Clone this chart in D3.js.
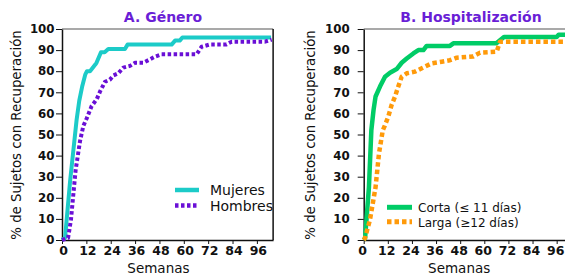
<!DOCTYPE html>
<html><head><meta charset="utf-8">
<script src="https://cdn.jsdelivr.net/npm/d3@7"></script>
<style>
html,body{margin:0;padding:0;background:#fff;}
svg{display:block;font-family:"DejaVu Sans",Verdana,sans-serif;}
</style></head>
<body><svg id="c" width="565" height="278"></svg>
<script>
// ---- data ----
const xTicks = [0,12,24,36,48,60,72,84,96];
const yTicks = [0,10,20,30,40,50,60,70,80,90,100];
const titles = ["A. Género","B. Hospitalización"];
const xLabel = "Semanas";
const yLabel = "% de Sujetos con Recuperación";

const mujeres = [[0,0],[1.5,1],[4,28],[7.2,57],[8.5,66],[10,73],[11.5,78.5],[12.3,80],[13.8,80],[16.3,83],[17,84],[19.2,89],[21,89],[22.8,90.5],[31,90.5],[32.3,92.6],[54,92.6],[55.7,94.5],[58,94.5],[59.3,96],[103,96]];
const hombres = [[0,0],[3,1],[4.4,9.5],[6.7,33],[8.9,47],[10.5,54],[12.2,57.7],[14.6,63.5],[17.1,66.7],[18.7,70.3],[21.2,75],[23.6,76],[25.3,78],[27.7,79],[30.2,81.7],[33.5,82.5],[36,84],[40,84],[43.3,85.6],[45.8,86.9],[49,88],[66.3,88],[68.8,91.6],[73,92.7],[81,92.7],[83.6,94],[100,94],[103.3,95]];
const corta = [[0,0],[0.7,1],[2.6,25],[3.8,52],[4.9,61.6],[5.9,68],[8.1,72.7],[10.6,77.4],[13.1,79.3],[16.4,81],[18.9,84],[21.4,86],[24.7,88.4],[27.2,90],[29.7,90],[31.3,92],[42.9,92],[44.6,93.2],[66,93.2],[69.8,96.2],[96,96.2],[97,97.3],[104,97.3]];
const larga = [[0,0],[0.6,0.8],[3.1,9.5],[5.9,25],[7.6,41],[9.5,52],[10.3,53.7],[12.2,58.4],[13.9,64],[15.6,68],[16.9,71.9],[18.9,77.4],[21.4,79],[25.5,79.8],[28.9,81.4],[33.8,83.7],[38.8,84.5],[42.9,85.2],[46.3,86.4],[54.5,87],[57.9,88.8],[66.2,89.3],[67.8,94],[104,94]];

const seriesA = [
  {name:"Mujeres", data:mujeres, color:"#1ccbc8", width:4, dash:null},
  {name:"Hombres", data:hombres, color:"#6a0fd6", width:4, dash:"3.5,2.5"}
];
const seriesB = [
  {name:"Corta (≤ 11 días)", data:corta, color:"#00cc66", width:4.5, dash:null},
  {name:"Larga (≥12 días)", data:larga, color:"#ff9a0a", width:4.5, dash:"4.5,3"}
];

const svg = d3.select("#c");

function panel(cfg){
  const x = d3.scaleLinear().domain([0,104]).range([cfg.x0, cfg.x0 + 104*cfg.kx]);
  const y = d3.scaleLinear().domain([0,100]).range([240,29]);
  const g = svg.append("g");

  g.append("text").attr("x", cfg.titleX).attr("y", 21.7).attr("text-anchor","middle")
    .attr("font-size",14).attr("font-weight","bold").attr("fill","#6a1ed6").text(cfg.title);

  g.append("line").attr("x1",x(0)).attr("x2",x(104)).attr("y1",y(100)).attr("y2",y(100))
    .attr("stroke","#555").attr("stroke-width",1.2);
  g.append("line").attr("x1",x(104)).attr("x2",x(104)).attr("y1",y(100)).attr("y2",y(0))
    .attr("stroke","#111").attr("stroke-width",1.5);

  const ya = g.append("g").attr("transform",`translate(${x(0)},0)`)
    .call(d3.axisLeft(y).tickValues(yTicks).tickSize(6).tickPadding(cfg.yPad).tickSizeOuter(0));
  ya.select(".domain").attr("stroke","#111").attr("stroke-width",1.5);
  ya.selectAll(".tick line").attr("stroke","#111").attr("stroke-width",1);
  ya.selectAll(".tick text").attr("font-family","DejaVu Sans").attr("font-size",11.8)
    .attr("font-weight","bold").attr("fill","#111");

  const xa = g.append("g").attr("transform",`translate(0,${y(0)})`)
    .call(d3.axisBottom(x).tickValues(xTicks).tickSize(4).tickPadding(2).tickSizeOuter(0));
  xa.select(".domain").attr("stroke","#111").attr("stroke-width",1.5);
  xa.selectAll(".tick line").attr("stroke","#111").attr("stroke-width",1);
  xa.selectAll(".tick text").attr("font-family","DejaVu Sans").attr("font-size",12.5)
    .attr("font-weight","bold").attr("fill","#111").attr("dx",cfg.xdx);

  g.append("text").attr("x", (x(0)+x(96))/2 - 1).attr("y", 273).attr("text-anchor","middle")
    .attr("font-size",13.5).attr("fill","#111").text(xLabel);
  g.append("text").attr("transform",`translate(${cfg.yLabX},135) rotate(-90)`).attr("text-anchor","middle")
    .attr("font-size",13.3).attr("fill","#111").text(yLabel);

  const line = d3.line().x(d=>x(d[0])).y(d=>y(d[1]));
  cfg.series.forEach(s=>{
    g.append("path").attr("d", line(s.data)).attr("fill","none").attr("stroke",s.color)
      .attr("stroke-width",s.width).attr("stroke-dasharray",s.dash).attr("stroke-linejoin","round");
  });

  cfg.series.forEach((s,i)=>{
    const ly = cfg.leg.y + i*cfg.leg.dy;
    g.append("line").attr("x1",cfg.leg.x1).attr("x2",cfg.leg.x2).attr("y1",ly).attr("y2",ly)
      .attr("stroke",s.color).attr("stroke-width",s.width+0.5).attr("stroke-dasharray",s.dash);
    g.append("text").attr("x",cfg.leg.tx).attr("y",ly+cfg.leg.tdy).attr("font-size",cfg.leg.fs)
      .attr("fill","#111").text(s.name);
  });
}

panel({x0:62, kx:2.03, title:titles[0], titleX:163, yPad:1.5, yLabX:21, xdx:1, series:seriesA,
  leg:{x1:175,x2:199,y:190,dy:15.5,tx:210,tdy:5,fs:14}});
panel({x0:363.7, kx:2.01, title:titles[1], titleX:471, yPad:8, yLabX:315, xdx:-1.5, series:seriesB,
  leg:{x1:387,x2:412,y:207.3,dy:14.5,tx:418,tdy:5,fs:12}});
</script></body></html>
